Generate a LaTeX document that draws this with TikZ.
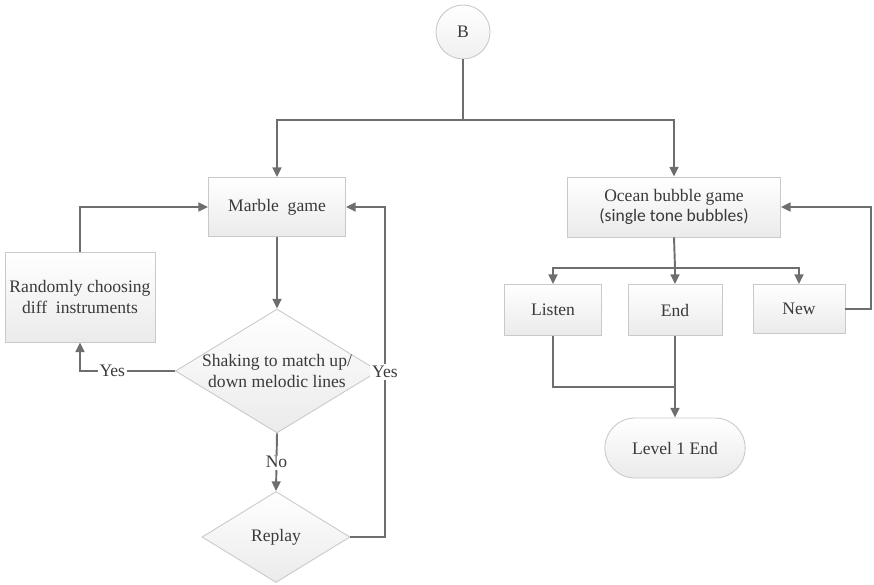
\documentclass[tikz,border=0pt]{standalone}
\usepackage{fontspec}
\setmainfont{Liberation Serif}
\newfontfamily\calfont{Carlito}
\usepackage{tikz}
\usetikzlibrary{positioning}
\usetikzlibrary{arrows.meta}
\usetikzlibrary{shapes.geometric}
\usetikzlibrary{shapes.misc}

\definecolor{linegray}{HTML}{6E6E6E}
\definecolor{edgegray}{HTML}{C9C9C9}
\definecolor{textgray}{HTML}{3A3A3A}

\begin{document}
\begin{tikzpicture}[x=0.02cm, y=-0.02cm,
  >={Triangle[length=5.5pt, width=5pt]},
  every node/.style={text=textgray, font=\fontsize{10}{11.5}\selectfont},
  box/.style={draw=edgegray, line width=0.5pt, top color=white, bottom color=black!8, align=center, inner sep=2pt},
  decision/.style={diamond, draw=edgegray, line width=0.5pt, top color=white, bottom color=black!8, align=center, inner sep=0pt},
  flow/.style={draw=linegray, line width=1.1pt},
  tag/.style={fill=white, inner sep=1pt}]

\useasboundingbox (0, 0) rectangle (874, 584);

\node [circle, draw=edgegray, line width=0.5pt, top color=white, bottom color=black!6, minimum size=1.08cm, inner sep=0pt] (start) at (463, 32) {B};
\node [box, minimum width=2.74cm, minimum height=1.18cm] (marble) at (277, 207) {Marble \ game};
\node [box, minimum width=4.26cm, minimum height=1.2cm] (ocean) at (674, 207) {Ocean bubble game \\ {\calfont (single tone bubbles)}};
\node [box, minimum width=3cm, minimum height=1.8cm] (random) at (80, 297) {Randomly choosing \\ diff \ instruments};
\node [decision, shape aspect=1.64, minimum width=3.88cm, minimum height=2.36cm] (shake) at (277, 371) {Shaking to match up/ \\ down melodic lines};
\node [decision, shape aspect=1.63, minimum width=2.96cm, minimum height=1.82cm] (replay) at (276, 537) {Replay};
\node [box, minimum width=1.94cm, minimum height=1.02cm] (listen) at (553, 310) {Listen};
\node [box, minimum width=1.88cm, minimum height=1.02cm] (stop) at (675, 310) {End};
\node [box, minimum width=1.84cm, minimum height=0.98cm] (new) at (799, 309) {New};
\node [rounded rectangle, draw=edgegray, line width=0.5pt, top color=white, bottom color=black!8, minimum width=3.04cm, minimum height=1.2cm] (level) at (675, 448) {Level 1 End};

\coordinate (split) at (463, 120);
\coordinate (branch) at (675, 268);
\coordinate (merge) at (675, 387);
\coordinate (backL) at (385, 207);
\coordinate (backR) at (871, 207);

\draw [flow] (start) -- (split);
\draw [flow, ->] (split) -| (marble.north);
\draw [flow, ->] (split) -| (ocean.north);

\draw [flow, ->] (marble) -- (shake);
\draw [flow, ->] (shake.west) -| node [tag, pos=0.33] {Yes} (random.south);
\draw [flow, ->] (random.north) |- (marble.west);
\draw [flow, ->] (shake.south) -- node [tag] {No} (replay.north);
\draw [flow, ->] (replay.east) -| node [tag, pos=0.75] {Yes} (backL) -- (marble.east);

\draw [flow] (ocean.south) -- (branch);
\draw [flow, ->] (branch) -| (listen.north);
\draw [flow, ->] (branch) -- (stop.north);
\draw [flow, ->] (branch) -| (new.north);
\draw [flow, ->] (new.east) -| (backR) -- (ocean.east);
\draw [flow] (listen.south) |- (merge);
\draw [flow, ->] (stop.south) -- (level.north);

\end{tikzpicture}
\end{document}
